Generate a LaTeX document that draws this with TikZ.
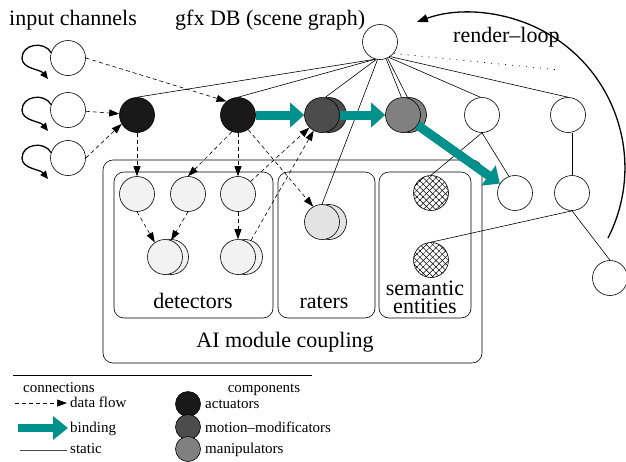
\documentclass[tikz,border=0pt]{standalone}
\usepackage{fontspec}
\setmainfont{Liberation Serif}
\usetikzlibrary{arrows.meta,patterns.meta}
\definecolor{bindteal}{RGB}{0,145,140}
\definecolor{actfill}{gray}{0.10}
\definecolor{motfill}{gray}{0.30}
\definecolor{manfill}{gray}{0.50}
\definecolor{detfill}{gray}{0.95}
\definecolor{ratfill}{gray}{0.89}
\pgfdeclarelayer{background}
\pgfsetlayers{background,main}
\begin{document}
\begin{tikzpicture}[x=1pt,y=-1pt,
  comp/.style={circle,draw,line width=0.6pt,minimum size=35pt,inner sep=0pt},
  plain/.style={comp,fill=white},
  act/.style={comp,fill=actfill},
  mot/.style={comp,fill=motfill},
  man/.style={comp,fill=manfill},
  det/.style={comp,fill=detfill},
  rat/.style={comp,fill=ratfill},
  sem/.style={comp,fill=white,
    pattern={Lines[angle=45,distance=4.5pt,line width=0.5pt]},
    postaction={pattern={Lines[angle=-45,distance=4.5pt,line width=0.5pt]}}},
  legcomp/.style={circle,draw,line width=0.6pt,minimum size=25pt,inner sep=0pt},
  group/.style={draw,line width=0.6pt,rounded corners=10pt},
  big/.style={font=\fontsize{22}{18}\selectfont,inner sep=0pt},
  small/.style={font=\fontsize{15}{17}\selectfont,inner sep=0pt},
  static/.style={line width=0.6pt},
  flow/.style={line width=0.6pt,dash pattern=on 4pt off 3pt,-{Triangle[length=10pt,width=7pt]}},
  bind/.style={draw=bindteal,line width=9pt,-{Triangle[length=14pt,width=24pt]}},
  selfloop/.style={line width=1.3pt,-{Triangle[length=8pt,width=7pt]}}]
\useasboundingbox (0,0) rectangle (626,461);

% titles
\node[big,anchor=base] (tin) at (73,25) {input channels};
\node[big,anchor=base west] (tgfx) at (175,25) {gfx DB (scene graph)};
\node[big,anchor=base west] (tloop) at (453,42) {render–loop};

% AI module coupling groups
\draw[group] (103,160) rectangle (482,363);
\draw[group] (114,172) rectangle (273,318);
\draw[group] (278,172) rectangle (375,318);
\draw[group] (379,172) rectangle (471,318);
\node[big,anchor=base] (tdet) at (193,308) {detectors};
\node[big,anchor=base] (trat) at (324,308) {raters};
\node[big,anchor=base] (tsem) at (425,295) {semantic};
\node[big,anchor=base] (tent) at (425,313) {entities};
\node[big,anchor=base] (tai) at (285,347) {AI module coupling};

% input channels
\node[plain] (in1) at (68,58) {};
\node[plain] (in2) at (68,110) {};
\node[plain] (in3) at (68,158) {};

% actuators
\node[act] (a1) at (137,115) {};
\node[act] (a2) at (238,115) {};

% motion modificator and manipulator (doubled)
\node[mot] (m1b) at (329,115) {};
\node[mot] (m1) at (322,115) {};
\node[man] (m2b) at (409,115) {};
\node[man] (m2) at (403,115) {};

% scene graph
\node[plain] (root) at (380,42) {};
\node[plain] (w1) at (482,115) {};
\node[plain] (w2) at (568,115) {};
\node[plain] (w3) at (515,193) {};
\node[plain] (w4) at (572,193) {};
\node[plain] (w5) at (610,278) {};

% detectors
\node[det] (d1) at (137,194) {};
\node[det] (d2) at (188,194) {};
\node[det] (d3) at (238,194) {};
\node[det] (d4b) at (171,257) {};
\node[det] (d4) at (165,257) {};
\node[det] (d5b) at (245,257) {};
\node[det] (d5) at (238,257) {};

% rater
\node[rat] (rb) at (329,222) {};
\node[rat] (r) at (322,222) {};

% semantic entities
\node[sem] (s1) at (431,193) {};
\node[sem] (s2) at (431,260) {};

\coordinate (dotend) at (560,70);

\begin{pgfonlayer}{background}
  % static scene graph links
  \draw[static] (root.255) -- (a1.north);
  \draw[static] (root.255) -- (a2.north);
  \draw[static] (root.258) -- (m1.80);
  \draw[static] (root.262) -- (r.north);
  \draw[static] (root.290) -- (m2.95);
  \draw[static] (root.295) -- (m2b.95);
  \draw[static] (root.300) -- (w1.95);
  \draw[static] (root.305) -- (w2.north);
  \draw[line width=0.7pt,dash pattern=on 1pt off 6pt] (root.320) -- (dotend);
  \draw[static] (w1.south) -- (s1.north);
  \draw[static] (w1.south) -- (w3.110);
  \draw[static] (w2.south -| w4.north) -- (w4.north);
  \draw[static] (w4.south) -- (s2.north);
  \draw[static] (w4.south) -- (w5.north);
\end{pgfonlayer}

% data flow
\draw[flow] (in1.east) -- (a2.130);
\draw[flow] (in2) -- (a1);
\draw[flow] (in3.east) -- (a1.210);
\draw[flow] (a1.south) -- (d1.north);
\draw[flow] (a2.250) -- (d2.north);
\draw[flow] (a2.south) -- (d3.north);
\draw[flow] (a2.-55) -- (r.120);
\draw[flow] (d3.45) -- (m1.225);
\draw[flow] (d5b.70) -- (m1.242);
\draw[flow] (d1.south) -- (d4.125);
\draw[flow] (d2.south) -- (d4.70);
\draw[flow] (d3.south) -- (d5.north);

% input channel self loops
\foreach \n in {in1,in2,in3}{
  \draw[selfloop] (\n.162) .. controls +(-7,-12) and +(0,-14) .. ([xshift=-46pt]\n.center)
     .. controls +(0,11) and +(-8,-10) .. ([xshift=-20pt,yshift=-21pt]\n.center);
}

% bindings
\draw[bind] (a2.east) -- (m1.west);
\draw[bind] (m1.east) -- (m2.west);
\draw[bind] (m2.-35) -- (w3.148);

% render loop
\draw[line width=1.3pt,-{Triangle[length=11pt,width=8pt]}]
  (608,238) arc[start angle=27,end angle=-110,radius=155];

% legend
\coordinate (lgl) at (13,375);
\coordinate (lgr) at (312,375);
\draw[line width=0.8pt] (lgl) -- (lgr);
\node[small,anchor=base] (lcon) at (59,392) {connections};
\node[small,anchor=base] (lcmp) at (264,392) {components};
\coordinate (lf1) at (15,403);
\coordinate (lf2) at (67,403);
\draw[flow] (lf1) -- (lf2);
\node[small,anchor=base west] (lflow) at (70,407) {data flow};
\coordinate (lb1) at (18,428);
\coordinate (lb2) at (68,428);
\draw[draw=bindteal,line width=8pt,-{Triangle[length=15pt,width=23pt]}] (lb1) -- (lb2);
\node[small,anchor=base west] (lbind) at (70,432) {binding};
\coordinate (ls1) at (20,450);
\coordinate (ls2) at (67,450);
\draw[line width=0.9pt,draw=black!70] (ls1) -- (ls2);
\node[small,anchor=base west] (lstat) at (70,453) {static};
\node[legcomp,fill=actfill] (lc1) at (188,404) {};
\node[legcomp,fill=motfill] (lc2) at (188,427) {};
\node[legcomp,fill=manfill] (lc3) at (188,449) {};
\node[small,anchor=base west] (lact) at (205,408) {actuators};
\node[small,anchor=base west] (lmot) at (205,432) {motion–modificators};
\node[small,anchor=base west] (lman) at (205,453) {manipulators};
\end{tikzpicture}
\end{document}
